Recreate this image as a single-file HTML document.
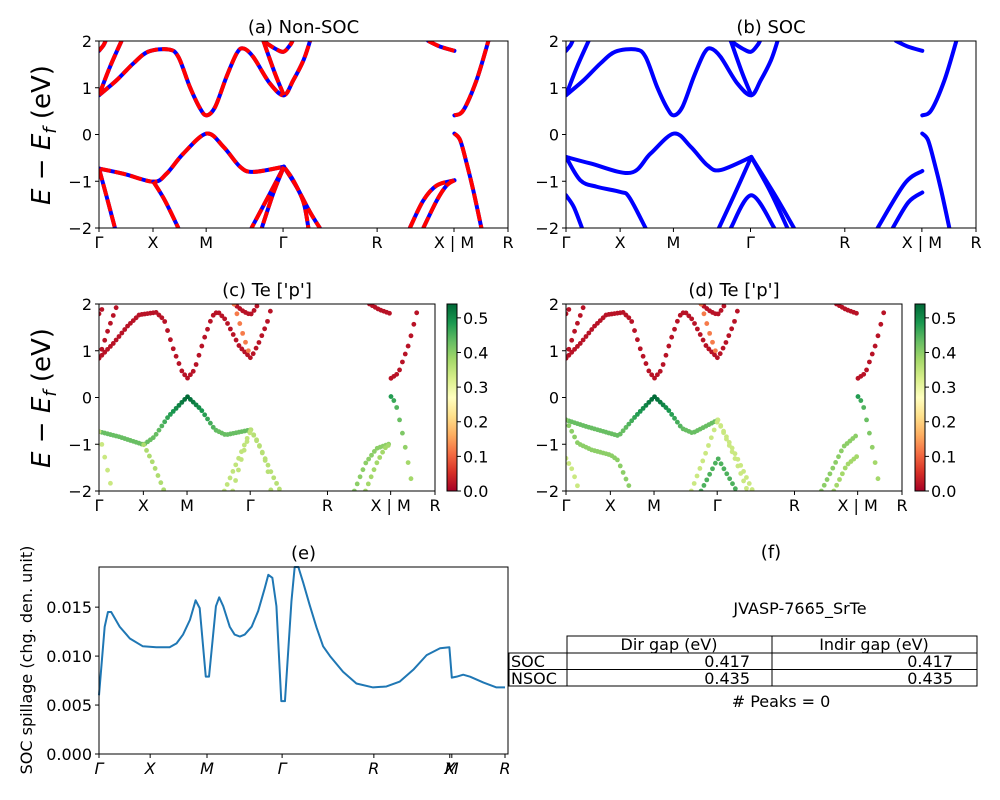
<!DOCTYPE html>
<html><head><meta charset="utf-8">
<style>
html,body{margin:0;padding:0;background:#fff;}
svg{display:block;font-family:"DejaVu Sans","Liberation Sans",sans-serif;}
</style></head>
<body>
<svg id="fig" width="1000" height="800" viewBox="0 0 1000 800" xmlns="http://www.w3.org/2000/svg"></svg>
<script>
// ---------- data ----------
const kTickLabels = ["Γ","X","M","Γ","R","X | M","R"];
const kTicks = [0,0.132,0.262,0.450,0.680,0.868,1];
const eTicks = [2,1,0,-1,-2];
// non-SOC bands: [k, E] points; weights for projection panel
const nsocBands = [
 [[0,0.84],[0.043,1.16],[0.084,1.52],[0.12,1.77],[0.17,1.82],[0.194,1.66],[0.222,1.02],[0.247,0.56],[0.263,0.41],[0.284,0.59],[0.312,1.24],[0.337,1.74],[0.353,1.84],[0.377,1.66],[0.418,1.09],[0.452,0.84],[0.475,1.16],[0.5,1.59],[0.516,2.0]],
 [[0,0.84],[0.027,1.45],[0.055,2.0]],
 [[0,1.79],[0.011,1.91],[0.016,2.0]],
 [[0.402,2.0],[0.430,1.84],[0.451,1.77],[0.467,1.91],[0.473,2.0]],
 [[0.402,2.0],[0.430,1.31],[0.452,0.84]],
 [[0.805,2.0],[0.834,1.88],[0.869,1.79]],
 [[0.869,0.41],[0.891,0.52],[0.923,1.16],[0.952,2.0]],
 [[0,-0.73],[0.06,-0.84],[0.133,-1.01],[0.165,-0.84],[0.206,-0.41],[0.263,0.02],[0.304,-0.26],[0.345,-0.69],[0.377,-0.8],[0.452,-0.69]],
 [[0.452,-0.69],[0.483,-1.12],[0.516,-1.66],[0.54,-2.0]],
 [[0.452,-0.69],[0.475,-0.98],[0.5,-1.45],[0.512,-2.0]],
 [[0.452,-0.69],[0.418,-1.26],[0.373,-2.0]],
 [[0.452,-0.69],[0.426,-1.26],[0.398,-2.0]],
 [[0,-0.73],[0.019,-1.34],[0.039,-2.0]],
 [[0.133,-1.01],[0.161,-1.41],[0.194,-2.0]],
 [[0.760,-2.0],[0.793,-1.41],[0.826,-1.09],[0.869,-0.98]],
 [[0.793,-2.0],[0.826,-1.41],[0.85,-1.09],[0.869,-0.98]],
 [[0.869,0.02],[0.883,-0.12],[0.899,-0.62],[0.915,-1.19],[0.935,-2.0]]
];
const nsocWeights = [0.02,0.02,0.02,0.02,0.12,0.02,0.02,0.43,0.36,0.36,0.35,0.35,0.34,0.37,0.40,0.38,0.48];
const socBands = [
 nsocBands[0], nsocBands[1], nsocBands[2], nsocBands[3], nsocBands[4], nsocBands[5], nsocBands[6],
 [[0,-0.48],[0.06,-0.62],[0.157,-0.82],[0.206,-0.41],[0.263,0.02],[0.304,-0.26],[0.345,-0.66],[0.377,-0.76],[0.452,-0.48]],
 [[0,-0.48],[0.035,-0.98],[0.076,-1.12],[0.133,-1.23],[0.154,-1.34],[0.194,-2.0]],
 [[0,-1.3],[0.019,-1.55],[0.039,-2.0]],
 [[0.452,-0.48],[0.41,-1.3],[0.373,-2.0]],
 [[0.402,-2.0],[0.452,-1.3],[0.508,-2.0]],
 [[0.452,-0.48],[0.5,-1.25],[0.54,-2.0]],
 [[0.452,-0.48],[0.51,-1.3],[0.556,-2.0]],
 [[0.760,-2.0],[0.826,-1.05],[0.869,-0.78]],
 [[0.797,-2.0],[0.835,-1.45],[0.869,-1.24]],
 nsocBands[16]
];
const socWeights = [0.02,0.02,0.02,0.02,0.12,0.02,0.02,0.43,0.40,0.34,0.34,0.45,0.34,0.34,0.40,0.38,0.48];
// spillage
const spillK = [0,.014,.022,.030,.051,.076,.108,.141,.174,.191,.207,.224,.238,.248,.263,.271,.288,.296,.306,.322,.334,.347,.359,.376,.392,.408,.417,.427,.437,.449,.458,.474,.482,.491,.503,.519,.536,.552,.569,.601,.634,.675,.708,.741,.774,.807,.840,.863,.869,.881,.897,.914,.947,.979,1];
const spillV = [.0060,.0130,.0145,.0145,.0130,.0118,.0110,.0109,.0109,.0113,.0122,.0137,.0157,.0149,.0079,.0079,.0151,.0160,.0151,.0130,.0122,.0120,.0122,.0130,.0146,.0169,.0183,.0180,.0151,.0054,.0054,.0156,.0191,.0191,.0175,.0152,.0129,.0110,.0100,.0084,.0072,.0068,.0069,.0074,.0086,.0101,.0108,.0109,.0078,.0079,.0081,.0079,.0073,.0068,.0068];
const spillTicks = [0,0.005,0.010,0.015];
const spillTickLabels = ["0.000","0.005","0.010","0.015"];
const eKTicks = [0,.126,.266,.451,.677,.864,.869,1];
const eKLabels = ["Γ","X","M","Γ","R","X","M","R"];
const cbTicks = [0,0.1,0.2,0.3,0.4,0.5];
// ---------- helpers ----------
const NS="http://www.w3.org/2000/svg";
const svg=document.getElementById('fig');
function mk(tag,attrs,parent){const e=document.createElementNS(NS,tag);for(const k in attrs)e.setAttribute(k,attrs[k]);(parent||svg).appendChild(e);return e;}
function txt(s,x,y,size,anchor,parent,extra){const t=mk('text',Object.assign({x:x,y:y,'font-size':size,'text-anchor':anchor||'middle',fill:'#000'},extra||{}),parent);t.textContent=s;return t;}
function smoothPath(pts){let d='M'+pts[0][0]+','+pts[0][1];for(let i=0;i<pts.length-1;i++){const p0=pts[i-1]||pts[i],p1=pts[i],p2=pts[i+1],p3=pts[i+2]||p2;const c1=[p1[0]+(p2[0]-p0[0])/6,p1[1]+(p2[1]-p0[1])/6],c2=[p2[0]-(p3[0]-p1[0])/6,p2[1]-(p3[1]-p1[1])/6];d+=' C'+c1[0]+','+c1[1]+' '+c2[0]+','+c2[1]+' '+p2[0]+','+p2[1];}return d;}
const cmStops=['#a50026','#d73027','#f46d43','#fdae61','#fee08b','#ffffbf','#d9ef8b','#a6d96a','#66bd63','#1a9850','#006837'];
function hex(c){return [parseInt(c.substr(1,2),16),parseInt(c.substr(3,2),16),parseInt(c.substr(5,2),16)];}
function cmap(v){v=Math.max(0,Math.min(1,v))*10;const i=Math.min(9,Math.floor(v)),f=v-i;const a=hex(cmStops[i]),b=hex(cmStops[i+1]);return 'rgb('+a.map((x,j)=>Math.round(x+(b[j]-x)*f)).join(',')+')';}
const VMAX=0.54;

function bandAxes(name,x0,y0,w,h,title){
  const g=mk('g',{});
  
  
  const xs=k=>x0+k*w, ys=E=>y0+(2-E)/4*h;
  const clip='clip-'+name;
  const cp=mk('clipPath',{id:clip},g);mk('rect',{x:x0,y:y0,width:w,height:h},cp);
  const plot=mk('g',{'clip-path':'url(#'+clip+')'},g);
  
  
  mk('rect',{x:x0,y:y0,width:w,height:h,fill:'none',stroke:'#000','stroke-width':1},g);
  eTicks.forEach(E=>{const y=ys(E);mk('line',{x1:x0-4,x2:x0,y1:y,y2:y,stroke:'#000'},g);
    const t=txt(String(E).replace('-','−'),x0-7,y+6,16,'end',g);});
  kTicks.forEach((k,i)=>{const x=xs(k);mk('line',{x1:x,x2:x,y1:y0+h,y2:y0+h+4,stroke:'#000'},g);
    const t=txt(kTickLabels[i],x,y0+h+20,16,'middle',g);});
  const tt=txt(title,x0+w/2,y0-8,18,'middle',g);
  return {plot,xs,ys,g};
}
function interp(band,k){for(let i=0;i<band.length-1;i++){const a=band[i],b=band[i+1];const lo=Math.min(a[0],b[0]),hi=Math.max(a[0],b[0]);if(k>=lo&&k<=hi){const f=hi===lo?0:(k-a[0])/(b[0]-a[0]);return a[1]+(b[1]-a[1])*f;}}return null;}
function drawLines(ax,bands,mode){
  bands.forEach(b=>{const d=smoothPath(b.map(p=>[ax.xs(p[0]),ax.ys(p[1])]));
    const l1=mk('path',{d:d,fill:'none',stroke:'#0000ff','stroke-width':4,'stroke-linecap':'round'},ax.plot);
    
    if(mode==='nsoc'){const l2=mk('path',{d:d,fill:'none',stroke:'#ff0000','stroke-width':4,'stroke-dasharray':'12 4'},ax.plot);
      }
  });
}
function drawScatter(ax,bands,weights){
  bands.forEach((b,bi)=>{const kmin=Math.min(...b.map(p=>p[0])),kmax=Math.max(...b.map(p=>p[0]));
    for(let k=kmin;k<=kmax+1e-9;k+=0.0085){const E=interp(b,k);if(E===null)continue;
      let w=weights[bi];if(bi===7){w=weights[bi]+0.11*Math.max(0,1-Math.abs(k-0.263)/0.09);}
      if(bi===16){w=weights[bi]-0.1*Math.min(1,(k-0.869)/0.05);}
      const c=mk('circle',{cx:ax.xs(k),cy:ax.ys(E),r:2.4,fill:cmap(w/VMAX)},ax.plot);
      }
  });
}
function colorbar(name,x0,y0,w,h){
  const g=mk('g',{});
  const gid='grad-'+name;const lg=mk('linearGradient',{id:gid,x1:0,y1:1,x2:0,y2:0},g);
  cmStops.forEach((c,i)=>mk('stop',{offset:i/10,'stop-color':c},lg));
  mk('rect',{x:x0,y:y0,width:w,height:h,fill:'url(#'+gid+')',stroke:'#000','stroke-width':1},g);
  cbTicks.forEach(v=>{const y=y0+h-v/VMAX*h;mk('line',{x1:x0+w,x2:x0+w+4,y1:y,y2:y,stroke:'#000'},g);
    const t=txt(v.toFixed(1),x0+w+6,y+6,16,'start',g);});
}
function ylabel(x,y){const t=mk('text',{x:0,y:0,'font-size':26,'text-anchor':'middle',transform:'translate('+x+','+y+') rotate(-90)'});
  
  t.innerHTML='<tspan font-style="italic">E</tspan> − <tspan font-style="italic">E</tspan><tspan font-style="italic" font-size="18" dy="6">f</tspan><tspan dy="-6"> (eV)</tspan>';}

// ---------- panels ----------
const A=bandAxes('panel-a-nonsoc',99,41,409,187,'(a) Non-SOC');drawLines(A,nsocBands,'nsoc');
const B=bandAxes('panel-b-soc',566,41,410,187,'(b) SOC');drawLines(B,socBands,'soc');
const C=bandAxes('panel-c-te-p',99,304,336,187,"(c)  Te ['p']");drawScatter(C,nsocBands,nsocWeights);
const D=bandAxes('panel-d-te-p',566,304,336,187,"(d) Te ['p']");drawScatter(D,socBands,socWeights);
colorbar('colorbar-c',447,304,10,187);
colorbar('colorbar-d',915,304,10,187);
ylabel(50,135);ylabel(50,398);

// panel e
(function(){
  const g=mk('g',{});
  const x0=99,y0=567,w=409,h=187,vmax=0.0191,kw=406;
  const xs=k=>x0+k*kw, ys=v=>y0+h-v/vmax*h;
  const pts=spillK.map((k,i)=>xs(k)+','+ys(spillV[i])).join(' ');
  const pl=mk('polyline',{points:pts,fill:'none',stroke:'#1f77b4','stroke-width':2,'stroke-linejoin':'round'},g);
  
  mk('rect',{x:x0,y:y0,width:w,height:h,fill:'none',stroke:'#000'},g);
  spillTicks.forEach((v,i)=>{const y=ys(v);mk('line',{x1:x0-4,x2:x0,y1:y,y2:y,stroke:'#000'},g);
    const t=txt(spillTickLabels[i],x0-7,y+6,16,'end',g);});
  eKTicks.forEach((k,i)=>{const x=xs(k);mk('line',{x1:x,x2:x,y1:y0+h,y2:y0+h+4,stroke:'#000'},g);
    const t=txt(eKLabels[i],x,y0+h+20,16,'middle',g,{'font-style':'italic'});});
  const tt=txt('(e)',x0+w/2,y0-8,18,'middle',g);
  const yl=mk('text',{x:0,y:0,'font-size':16,'text-anchor':'middle',transform:'translate(32,660) rotate(-90)'},g);
  yl.textContent='SOC spillage (chg. den. unit)';
})();
</script>
<svg width="1000" height="800" style="position:absolute;left:0;top:0;font-family:'DejaVu Sans','Liberation Sans',sans-serif" xmlns="http://www.w3.org/2000/svg">
 <text x="771" y="558" font-size="18" text-anchor="middle">(f)</text>
 <text x="800" y="614" font-size="16" text-anchor="middle">JVASP-7665_SrTe</text>
 <g fill="none" stroke="#000" stroke-width="1">
  <rect x="567" y="636" width="410" height="17"/>
  <line x1="772" y1="636" x2="772" y2="686"/>
  <rect x="509" y="653" width="468" height="33"/>
  <line x1="509" y1="669.5" x2="977" y2="669.5"/>
  <line x1="567" y1="653" x2="567" y2="686"/>
 </g>
 <g font-size="16" fill="#000">
  <text x="669" y="650" text-anchor="middle">Dir gap (eV)</text>
  <text x="874" y="650" text-anchor="middle">Indir gap (eV)</text>
  <text x="511" y="667">SOC</text>
  <text x="750" y="667" text-anchor="end">0.417</text>
  <text x="953" y="667" text-anchor="end">0.417</text>
  <text x="511" y="684">NSOC</text>
  <text x="750" y="684" text-anchor="end">0.435</text>
  <text x="953" y="684" text-anchor="end">0.435</text>
 </g>
 <text x="781" y="707" font-size="16" text-anchor="middle"># Peaks = 0</text>
</svg>
</body></html>
